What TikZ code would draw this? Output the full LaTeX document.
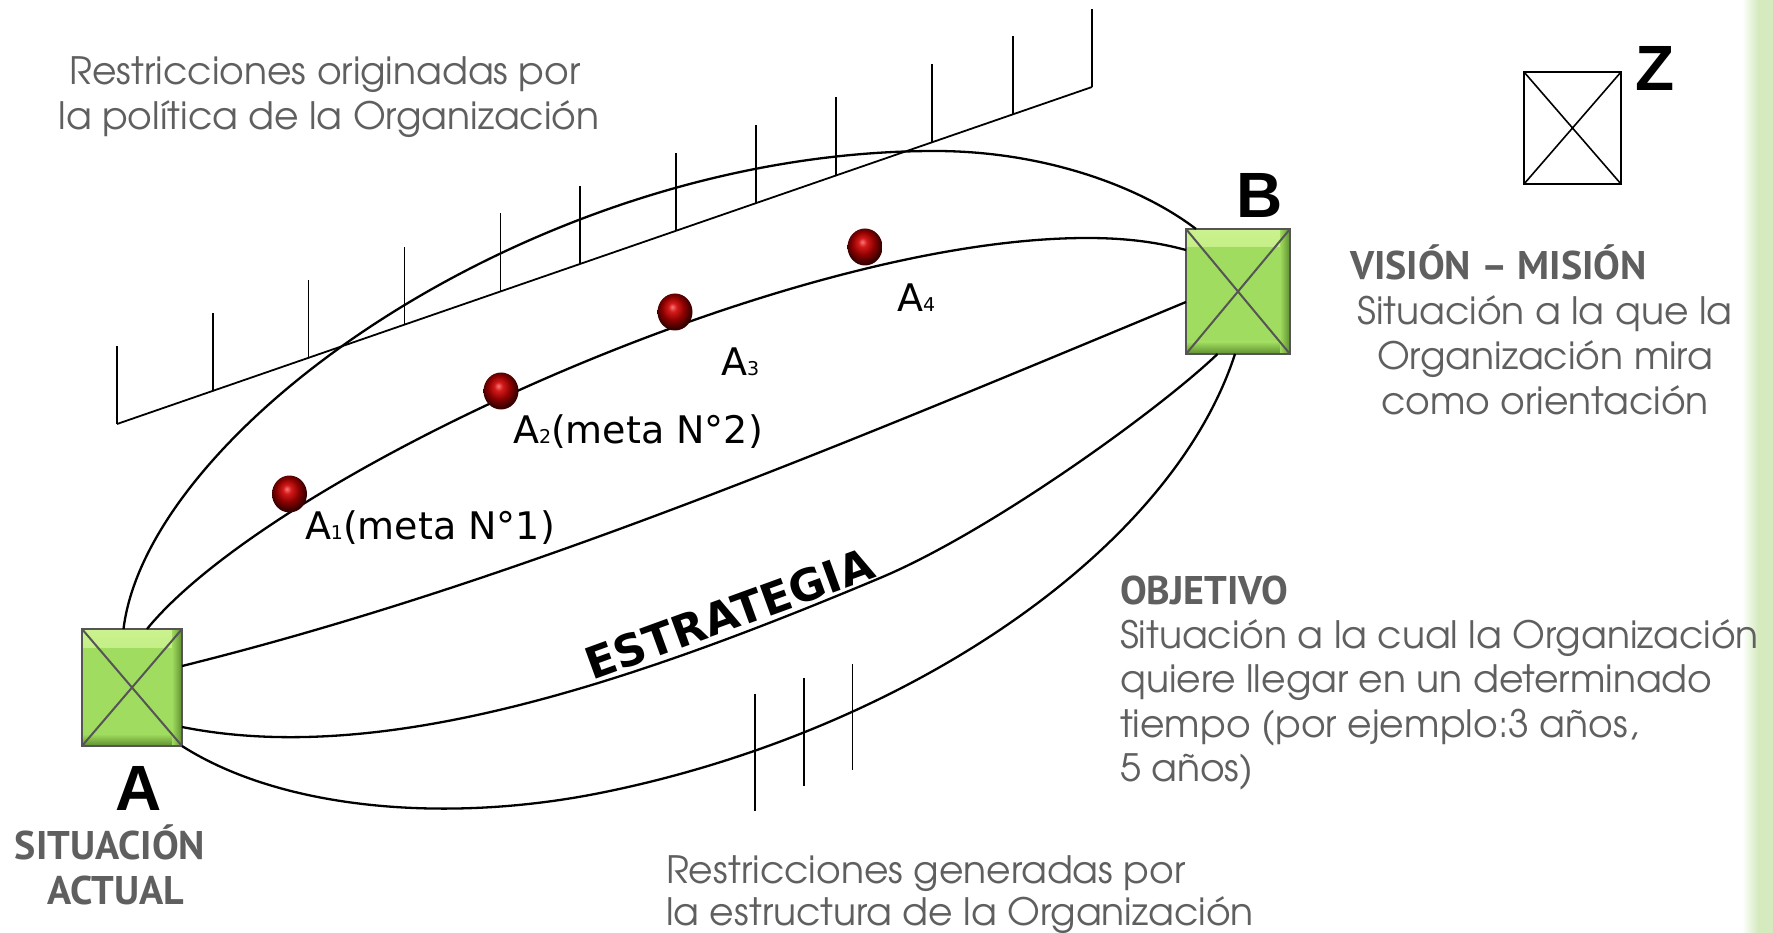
\documentclass[tikz,border=0pt]{standalone}
\usepackage{fontspec}
\usetikzlibrary{calc,shapes.geometric}
\newfontfamily\gothic{texgyreadventor-regular.otf}
\newfontfamily\headfont{PT Sans}
\newfontfamily\verd{DejaVu Sans}
\newfontfamily\arialfont{Liberation Sans}
\definecolor{txtgrey}{HTML}{5F5F5F}
\definecolor{boxgreen}{HTML}{A0DC5F}
\definecolor{boxhi}{HTML}{CBF28E}
\definecolor{boxdark}{HTML}{5E8F2E}
\definecolor{boxedge}{HTML}{555555}
\definecolor{stripgreen}{HTML}{D5EABF}
\definecolor{ballhi}{HTML}{F57A7A}
\definecolor{ballmid}{HTML}{D41A1A}
\definecolor{balldark}{HTML}{8A0000}
\definecolor{balledge}{HTML}{3A0000}
\pgfdeclareradialshading{redball}{\pgfqpoint{-4bp}{7bp}}{color(0bp)=(ballhi); color(6bp)=(ballmid); color(16bp)=(balldark); color(25bp)=(balledge); color(50bp)=(balledge)}
\tikzset{
  every node/.style={inner sep=0pt, outer sep=0pt},
  curve/.style={line width=2.3pt, black},
  hatchline/.style={line width=1.8pt, black},
  gtext/.style={text=txtgrey, font=\gothic\fontsize{37.7}{37.7}\selectfont},
  htext/.style={text=txtgrey, font=\headfont\bfseries\fontsize{40}{40}\selectfont},
  lbl/.style={font=\verd\fontsize{38}{38}\selectfont},
  bigletter/.style={font=\arialfont\bfseries\fontsize{64}{64}\selectfont},
  goalball/.style={ellipse, minimum width=35pt, minimum height=37pt, shade, shading=redball},
  zbox/.style={rectangle, draw=black, line width=2pt, fill=white, path picture={
    \draw[line width=1.6pt] (path picture bounding box.north west) -- (path picture bounding box.south east)
      (path picture bounding box.south west) -- (path picture bounding box.north east);}},
  gbox/.style={rectangle, draw=boxedge, line width=1.4pt, fill=boxgreen, path picture={
    \shade[top color=boxhi, bottom color=boxgreen] (path picture bounding box.north west) rectangle ([yshift=-18pt]path picture bounding box.north east);
    \shade[top color=boxgreen, bottom color=boxdark] ([yshift=12pt]path picture bounding box.south west) rectangle (path picture bounding box.south east);
    \shade[left color=boxgreen, right color=boxdark] ([xshift=-10pt]path picture bounding box.south east) rectangle (path picture bounding box.north east);
    \draw[line width=2pt] (path picture bounding box.north west) -- (path picture bounding box.south east)
      (path picture bounding box.south west) -- (path picture bounding box.north east);}}
}
\begin{document}
\begin{tikzpicture}[x=1pt, y=-1pt]
\useasboundingbox (0,0) rectangle (1773,933);
\fill[white] (0,0) rectangle (1773,933);
% green strip at right edge
\shade[left color=white, right color=stripgreen] (1742,0) rectangle (1758,933);
\fill[stripgreen] (1757.5,0) rectangle (1773,933);

% restrictions of policy (hatched line)
\coordinate (hs) at (117,424);
\coordinate (he) at (1092,87);
\draw[hatchline] (hs) -- (he);
\foreach \f in {0,0.0985,0.1964,0.2949,0.3933,0.4749,0.5733,0.6554,0.7374,0.8359,0.9190,1}
  \draw[hatchline] ($(hs)!\f!(he)$) -- ++(0,-78);

% boxes
\node[gbox, minimum width=100pt, minimum height=117pt] (A) at (132,687.5) {};
\node[gbox, minimum width=104pt, minimum height=125pt] (B) at (1238,291.5) {};
\node[zbox, minimum width=97pt, minimum height=112pt] (Z) at (1572.5,128) {};

% attachment points
\coordinate (a1) at ($(A.north)+(-8.5,0)$);
\coordinate (a2) at ($(A.north)+(15,0)$);
\coordinate (a3) at ($(A.east)+(0,-21.5)$);
\coordinate (a4) at ($(A.east)+(0,39.5)$);
\coordinate (a5) at (A.south east);
\coordinate (b1) at ($(B.north)+(-42,0)$);
\coordinate (b2) at ($(B.west)+(0,-41.5)$);
\coordinate (b3) at ($(B.west)+(0,10.5)$);
\coordinate (b4) at ($(B.south)+(-20.5,0)$);
\coordinate (b5) at ($(B.south)+(-3,0)$);

% paths from A to B
\draw[curve] (a1) .. controls (148,429) and (535,151) .. (935,151) .. controls (1045,151) and (1141,187) .. (b1);
\draw[curve] (a2) .. controls (273,475) and (787,238) .. (1087,238) .. controls (1130,238) and (1160,243) .. (b2);
\draw[curve] (a3) .. controls (517,583) and (851,441) .. (b3);
\draw[curve] (a4) .. controls (382,767) and (630,683) .. (880,578) .. controls (990,532) and (1159,410) .. (b4);
\draw[curve] (a5) .. controls (284,811) and (450,823) .. (600,793) .. controls (900,733) and (1170,554) .. (b5);

% restrictions of structure
\draw[hatchline] (755,694) -- (755,811);
\draw[hatchline] (804,678) -- (804,786);
\draw[hatchline] (852.5,664) -- (852.5,770);

% goals
\node[goalball] (g1) at (289.5,494) {};
\node[goalball] (g2) at (501,391) {};
\node[goalball] (g3) at (675,312) {};
\node[goalball] (g4) at (865,247) {};
\node[lbl, anchor=base west] (l1) at (305,539) {A{\fontsize{19}{19}\selectfont 1}(meta N°1)};
\node[lbl, anchor=base west] (l2) at (513,443) {A{\fontsize{19}{19}\selectfont 2}(meta N°2)};
\node[lbl, anchor=base west] (l3) at (721,376) {A{\fontsize{19}{19}\selectfont 3}};
\node[lbl, anchor=base west] (l4) at (897,312) {A{\fontsize{19}{19}\selectfont 4}};

\node[rotate=20, anchor=base, font={\verd\bfseries\fontsize{44}{44}\selectfont}] (est) at (735,629) {ESTRATEGIA};

% letters
\node[bigletter, anchor=base] (lA) at (139,810) {A};
\node[bigletter, anchor=base] (lB) at (1260,218) {B};
\node[bigletter, anchor=base] (lZ) at (1655,91) {Z};

% texts
\node[gtext, anchor=base] (r1) at (325,85) {Restricciones originadas por};
\node[gtext, anchor=base] (r2) at (329,130) {la política de la Organización};
\node[gtext, anchor=base west] (s1) at (666,883) {Restricciones generadas por};
\node[gtext, anchor=base west] (s2) at (666,925) {la estructura de la Organización};

\node[htext, anchor=base west] (vm) at (1350,280) {VISIÓN – MISIÓN};
\node[gtext, anchor=base] (v1) at (1545,325) {Situación a la que la};
\node[gtext, anchor=base] (v2) at (1545,370) {Organización mira};
\node[gtext, anchor=base] (v3) at (1545,414) {como orientación};

\node[htext, anchor=base west] (ob) at (1120,604) {OBJETIVO};
\node[gtext, anchor=base west] (o1) at (1120,648) {Situación a la cual la Organización};
\node[gtext, anchor=base west] (o2) at (1120,692) {quiere llegar en un determinado};
\node[gtext, anchor=base west] (o3) at (1120,737) {tiempo (por ejemplo:3 años,};
\node[gtext, anchor=base west] (o4) at (1120,781) {5 años)};

\node[htext, anchor=base] (sa1) at (110,859) {SITUACIÓN};
\node[htext, anchor=base] (sa2) at (116,904) {ACTUAL};
\end{tikzpicture}
\end{document}
